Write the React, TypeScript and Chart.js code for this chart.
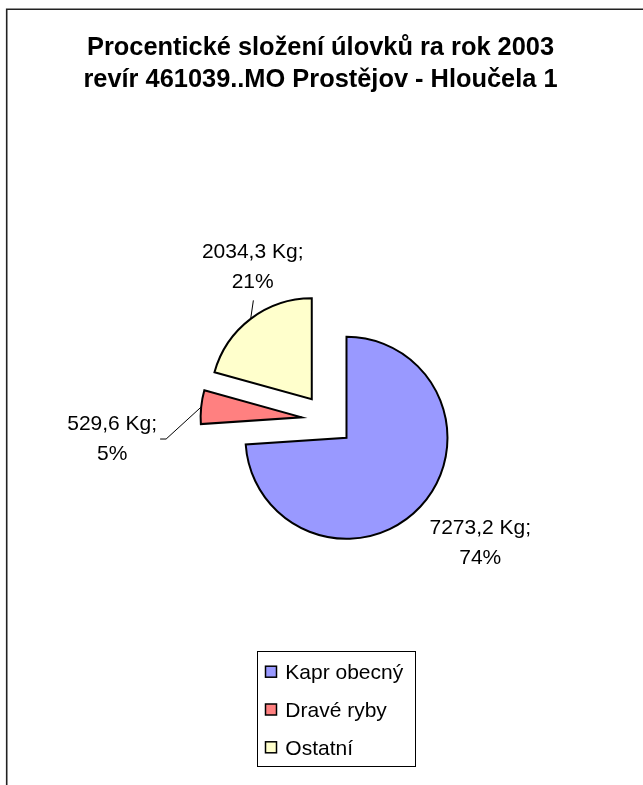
import React, { useEffect, useRef } from 'react';
import { Chart, registerables } from 'chart.js';

Chart.register(...registerables);

// ---------- data ----------
const categories = ['Kapr obecný', 'Dravé ryby', 'Ostatní'];
const weightsKg = [7273.2, 529.6, 2034.3];
const sliceColors = ['#9999FF', '#FF8080', '#FFFFCC'];
const titleLines = [
  'Procentické složení úlovků ra rok 2003',
  'revír 461039..MO Prostějov - Hloučela 1',
];
const unitLabel = 'Kg';

// ---------- layout / style ----------
const W = 643;
const H = 785;
const FONT = '"Liberation Sans", Arial, Helvetica, sans-serif';
const PIE_RADIUS = 101;
const EXPLODE = 26;
const LABEL_SIZE = 21;
const LABEL_LINE = 30;
// label block centre relative to the point of the arc at mid angle
const LABEL_LAYOUT = [
  { dx: 60, dy: 35, leader: 'none' },
  { dx: -89, dy: 30, leader: 'side' },
  { dx: 2, dy: -53.5, leader: 'below' },
];
const LEGEND_BOX = { x: 257, y: 651, w: 158, h: 115 };
const LEGEND_ROW0 = 671.7;
const LEGEND_STEP = 37.8;

const fmtKg = (v: number) => v.toFixed(1).replace('.', ',');

const explodePlugin = {
  id: 'explodeSlices',
  afterDatasetsUpdate(chart: any) {
    const meta = chart.getDatasetMeta(0);
    meta.data.forEach((el: any) => {
      const mid = (el.startAngle + el.endAngle) / 2;
      el.x += Math.cos(mid) * EXPLODE;
      el.y += Math.sin(mid) * EXPLODE;
    });
  },
};

const decorPlugin = {
  id: 'decor',
  afterDraw(chart: any) {
    const ctx: CanvasRenderingContext2D = chart.ctx;
    ctx.save();

    // frame (top and left edges)
    ctx.strokeStyle = '#222';
    ctx.lineWidth = 1.6;
    ctx.beginPath();
    ctx.moveTo(6.7, H);
    ctx.lineTo(6.7, 9.3);
    ctx.lineTo(W, 9.3);
    ctx.stroke();

    // title
    ctx.fillStyle = '#000';
    ctx.font = `bold 25.4px ${FONT}`;
    ctx.textAlign = 'center';
    ctx.textBaseline = 'alphabetic';
    titleLines.forEach((t, i) => ctx.fillText(t, 320.5, 54.5 + i * 32));

    // data labels
    const ds = chart.data.datasets[0];
    const values: number[] = ds.data;
    const total = values.reduce((a, b) => a + b, 0);
    const meta = chart.getDatasetMeta(0);
    ctx.font = `${LABEL_SIZE}px ${FONT}`;
    meta.data.forEach((el: any, i: number) => {
      const mid = (el.startAngle + el.endAngle) / 2;
      const px = el.x + Math.cos(mid) * el.outerRadius;
      const py = el.y + Math.sin(mid) * el.outerRadius;
      const L = LABEL_LAYOUT[i];
      const cx = px + L.dx;
      const cy = py + L.dy;
      const lines = [
        `${fmtKg(values[i])} ${unitLabel};`,
        `${Math.round((values[i] / total) * 100)}%`,
      ];
      ctx.fillStyle = '#000';
      ctx.textAlign = 'center';
      lines.forEach((t, k) => {
        ctx.fillText(t, cx, cy + (k - 0.5) * LABEL_LINE + LABEL_SIZE * 0.358);
      });
      const halfW = Math.max(...lines.map((t) => ctx.measureText(t).width)) / 2;
      ctx.strokeStyle = '#000';
      ctx.lineWidth = 1;
      if (L.leader === 'below') {
        ctx.beginPath();
        ctx.moveTo(px, py);
        ctx.lineTo(cx + 0.7, cy + 35);
        ctx.stroke();
      } else if (L.leader === 'side') {
        const right = cx + halfW;
        ctx.beginPath();
        ctx.moveTo(right + 3, cy + 2);
        ctx.lineTo(right + 9, cy + 2);
        ctx.lineTo(px, py);
        ctx.stroke();
      }
    });

    // legend
    ctx.strokeStyle = '#000';
    ctx.lineWidth = 1;
    ctx.strokeRect(LEGEND_BOX.x + 0.5, LEGEND_BOX.y + 0.5, LEGEND_BOX.w, LEGEND_BOX.h);
    ctx.font = `${LABEL_SIZE}px ${FONT}`;
    ctx.textAlign = 'left';
    chart.data.labels.forEach((lab: string, i: number) => {
      const cy = LEGEND_ROW0 + i * LEGEND_STEP;
      ctx.fillStyle = ds.backgroundColor[i];
      ctx.fillRect(265.5, cy - 5.5, 11, 11);
      ctx.lineWidth = 1.5;
      ctx.strokeStyle = '#000';
      ctx.strokeRect(265.5, cy - 5.5, 11, 11);
      ctx.fillStyle = '#000';
      ctx.fillText(lab, 285.3, cy + LABEL_SIZE * 0.358);
    });

    ctx.restore();
  },
};

export default function App() {
  const ref = useRef<HTMLCanvasElement | null>(null);
  useEffect(() => {
    if (!ref.current) return;
    const chart = new Chart(ref.current, {
      type: 'pie',
      data: {
        labels: categories,
        datasets: [
          {
            data: weightsKg,
            backgroundColor: sliceColors,
            borderColor: '#000',
            borderWidth: 2,
            borderJoinStyle: 'miter',
            radius: PIE_RADIUS,
          } as any,
        ],
      },
      options: {
        responsive: false,
        animation: false,
        events: [],
        layout: { padding: { left: 12, right: 0, top: 55, bottom: 0 } },
        plugins: {
          legend: { display: false },
          title: { display: false },
          tooltip: { enabled: false },
        },
      },
      plugins: [explodePlugin, decorPlugin],
    });
    return () => chart.destroy();
  }, []);
  return (
    <div style={{ position: 'absolute', left: 0, top: 0, width: W, height: H, background: '#fff' }}>
      <canvas ref={ref} width={W} height={H} style={{ display: 'block', width: W, height: H }} />
    </div>
  );
}
